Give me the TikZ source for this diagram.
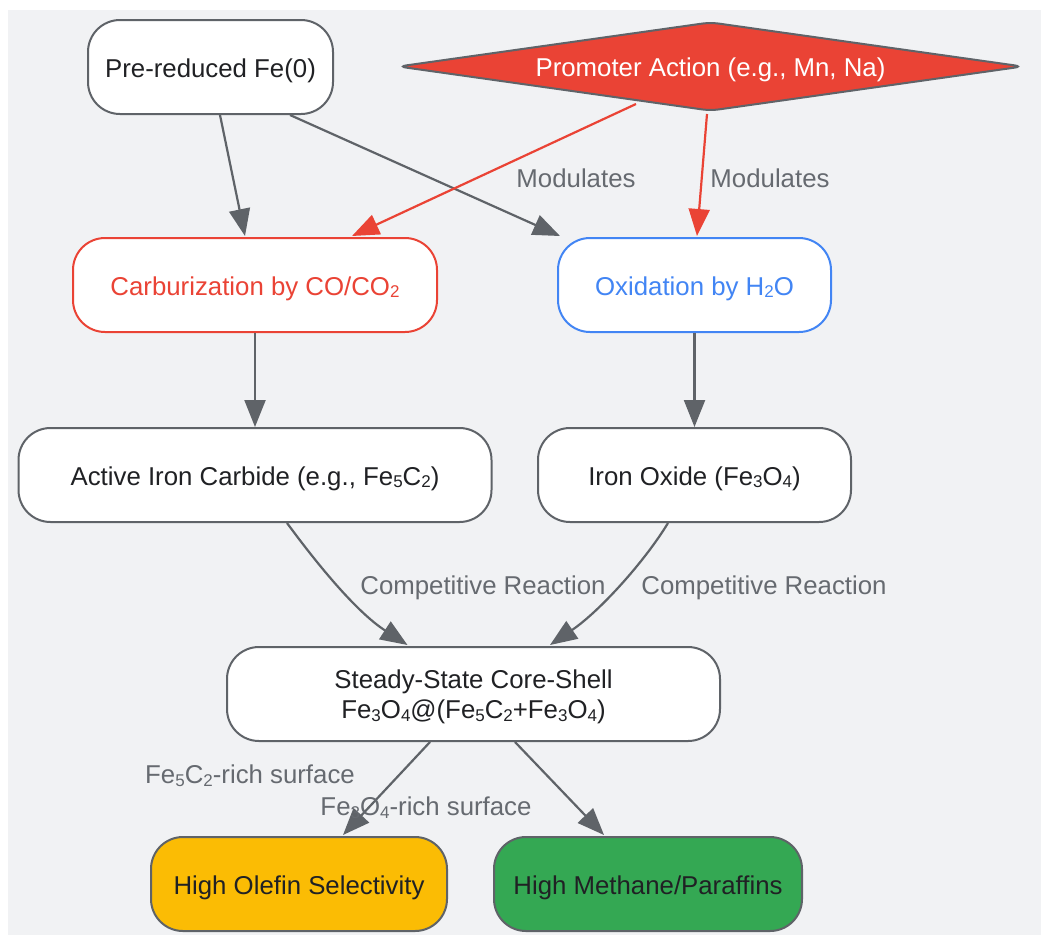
\documentclass[tikz,border=0pt]{standalone}
\usepackage{fontspec}
\setmainfont{Liberation Sans}
\usetikzlibrary{arrows.meta,shapes.geometric,calc}
\definecolor{bgc}{HTML}{F1F2F4}
\definecolor{lgray}{HTML}{5F6368}
\definecolor{labgray}{HTML}{666A70}
\definecolor{ink}{HTML}{202124}
\definecolor{gred}{HTML}{EA4335}
\definecolor{gblue}{HTML}{4285F4}
\definecolor{gyellow}{HTML}{FBBC04}
\definecolor{ggreen}{HTML}{34A853}
\newcommand\chemsub[1]{\raisebox{-0.1em}{\fontsize{17}{17}\selectfont #1}}
\newcommand\dn[1]{\raisebox{-3.5pt}[\height][\depth]{#1}}
\begin{document}
\begin{tikzpicture}[x=1pt,y=-1pt,
  font=\fontsize{25.8}{31}\selectfont,
  box/.style={draw=lgray, line width=2pt, rounded corners=32pt, fill=white, text=ink,
    inner sep=0pt, align=center, minimum height=94pt},
  edge/.style={draw=lgray, line width=2.2pt, -{Triangle[length=27pt,width=21pt]}},
  redge/.style={edge, draw=gred, -{Triangle[length=27pt,width=21pt,fill=gred]}},
  lab/.style={text=labgray, inner sep=0pt}]
\useasboundingbox (0,0) rectangle (1041,935);
\fill[bgc] (8,10) rectangle (1041,935);

\node[box, minimum width=245pt] (pre) at (210.5,67) {\dn{Pre-reduced Fe(0)}};
\node[diamond, aspect=7, draw=lgray, fill=gred, text=white, line width=2pt,
  minimum width=625pt, minimum height=89pt, inner sep=0pt, rounded corners=8pt]
  (prom) at (710.5,66.5) {\dn{Promoter Action (e.g., Mn, Na)}};
\node[box, draw=gred, text=gred, minimum width=364pt] (carb) at (255,285) {\dn{Carburization by CO/CO\chemsub{2}}};
\node[box, draw=gblue, text=gblue, minimum width=273pt] (oxi) at (694.5,285) {\dn{Oxidation by H\chemsub{2}O}};
\node[box, minimum width=473pt] (carbide) at (255,475) {\dn{Active Iron Carbide (e.g., Fe\chemsub{5}C\chemsub{2})}};
\node[box, minimum width=313pt] (oxide) at (694.5,475) {\dn{Iron Oxide (Fe\chemsub{3}O\chemsub{4})}};
\node[box, minimum width=493pt] (core) at (473.5,694) {\dn{\begin{tabular}{@{}c@{}}Steady-State Core-Shell\\[-1pt]Fe\chemsub{3}O\chemsub{4}@(Fe\chemsub{5}C\chemsub{2}+Fe\chemsub{3}O\chemsub{4})\end{tabular}}};
\node[box, fill=gyellow, minimum width=296pt] (olefin) at (299,884) {\dn{High Olefin Selectivity}};
\node[box, fill=ggreen, minimum width=308pt] (meth) at (648,884) {\dn{High Methane/Paraffins}};

\draw[edge] ($(pre.south)+(9.5,0)$) -- ($(carb.north)+(-10,-1)$);
\draw[edge] ($(pre.south)+(79.5,0)$) -- ($(oxi.north)+(-134.5,-1)$);
\draw[redge] ($(prom.south)+(-74.5,-8)$) -- ($(carb.north)+(97,-1)$);
\draw[redge] ($(prom.south)+(-3.5,2)$) -- ($(oxi.north)+(2.5,-1)$);
\draw[edge] (carb.south) -- (carbide.north);
\draw[edge] (oxi.south) -- (oxide.north);
\draw[edge] ($(carbide.south)+(32,0)$) .. controls ($(carbide.south)+(60,38)$) and ($(core.north)+(-118.5,-35)$) .. ($(core.north)+(-66,-1)$);
\draw[edge] ($(oxide.south)+(-26.5,0)$) .. controls ($(oxide.south)+(-49.5,38)$) and ($(core.north)+(126.5,-35)$) .. ($(core.north)+(76.5,-1)$);
\draw[edge] ($(core.south)+(-43.5,0)$) -- ($(olefin.north)+(44,-1)$);
\draw[edge] ($(core.south)+(41.5,0)$) -- ($(meth.north)+(-44,-1)$);

\node[lab] (l1) at (576,178) {Modulates};
\node[lab] (l2) at (770,178) {Modulates};
\node[lab] (l3) at (483,587.5) {Competitive Reaction};
\node[lab] (l4) at (764,587.5) {Competitive Reaction};
\node[lab] (l5) at (250,776) {Fe\chemsub{5}C\chemsub{2}-rich surface};
\node[lab] (l6) at (426,808) {Fe\chemsub{3}O\chemsub{4}-rich surface};
\end{tikzpicture}
\end{document}
